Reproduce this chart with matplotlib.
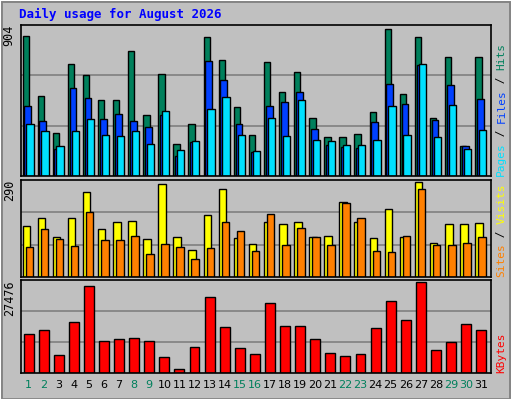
import matplotlib
matplotlib.use("Agg")
import matplotlib.pyplot as plt
from matplotlib.patches import Rectangle

days = list(range(1, 32))
weekend = [1, 2, 8, 9, 15, 16, 22, 23, 29, 30]
hits = [861,492,264,689,621,467,467,769,375,627,197,320,855,713,424,252,701,517,640,357,240,240,258,394,904,504,855,357,732,185,732]
files = [431,338,166,541,480,351,381,338,301,375,123,209,707,590,320,148,431,455,517,289,191,178,172,332,566,443,683,344,560,185,474]
pages = [320,277,185,277,351,252,246,277,197,400,160,215,412,486,252,154,357,246,467,221,215,191,191,221,431,252,689,240,437,166,283]
visits = [156,182,124,182,261,147,169,172,115,284,124,83,191,271,121,102,169,163,169,124,127,229,169,118,207,124,290,105,163,163,166]
sites = [92,147,115,96,198,112,112,127,70,102,92,54,89,169,140,80,194,99,150,124,99,226,182,80,76,127,271,99,99,105,124]
kbytes = [11778,12986,5436,15402,26274,9664,10268,10570,9664,4832,1208,7852,22952,13892,7550,5738,21140,14194,14194,10268,6040,5134,5738,13590,21744,16006,27476,6946,9362,14798,12986]

BG = "#C0C0C0"
fig = plt.figure(figsize=(5.12, 4.0), dpi=100, facecolor=BG)
fig.patches.append(Rectangle((0.002, 0.003), 0.994, 0.994, transform=fig.transFigure,
                             fill=False, edgecolor="#808080", lw=2))
fig.patches.append(Rectangle((0.0, 0.0), 1, 1, transform=fig.transFigure,
                             fill=False, edgecolor="white", lw=1.5))
mono = "DejaVu Sans Mono"
fig.text(0.037, 0.965, "Daily usage for August 2026", color="#0000FF", fontsize=9,
         fontweight="bold", family=mono, va="center")

L, W = 0.041, 0.918
ax1 = fig.add_axes([L, 0.56, W, 0.3775])
ax2 = fig.add_axes([L, 0.3075, W, 0.2425])
ax3 = fig.add_axes([L, 0.0675, W, 0.2325])

kw = dict(edgecolor="black", linewidth=1, align="edge")
x = [d for d in days]
ax1.bar([d - 0.45 for d in x], hits, width=0.42, color="#00805C", **kw)
ax1.bar([d - 0.33 for d in x], files, width=0.45, color="#0040FF", **kw)
ax1.bar([d - 0.2 for d in x], pages, width=0.48, color="#00E0FF", **kw)
ax2.bar([d - 0.45 for d in x], visits, width=0.5, color="#FFFF00", **kw)
ax2.bar([d - 0.25 for d in x], sites, width=0.5, color="#FF8000", **kw)
ax3.bar([d - 0.38 for d in x], kbytes, width=0.66, color="#FF0000", **kw)

for ax, mx in ((ax1, max(hits)), (ax2, max(visits)), (ax3, max(kbytes))):
    top = mx * 1.025
    ax.set_facecolor(BG)
    ax.set_xlim(0.45, 31.6)
    ax.set_ylim(0, top)
    for g in (top / 3, 2 * top / 3):
        ax.axhline(g, color="#808080", lw=1.2, zorder=0)
    ax.set_xticks([]); ax.set_yticks([])
    for s in ax.spines.values():
        s.set_color("black"); s.set_linewidth(1.2)
    ax.text(-0.025, 1.0, str(mx), transform=ax.transAxes, rotation=90,
            ha="center", va="top", fontsize=8.5, family=mono)

for d in days:
    ax3.text(d - 0.05, -0.13, str(d), transform=ax3.get_xaxis_transform(), ha="center",
             va="center", fontsize=8, color="#00805C" if d in weekend else "black")

def rlabel(ax, parts):
    y = 0.0
    for txt, col in parts:
        ax.text(1.022, y, txt, transform=ax.transAxes, rotation=90, ha="center",
                va="bottom", fontsize=8, color=col, family=mono)
        y += len(txt) * 0.044 * (0.3775 / ax.get_position().height)

rlabel(ax1, [("Pages", "#00E0FF"), (" / ", "black"), ("Files", "#0040FF"), (" / ", "black"), ("Hits", "#00805C")])
rlabel(ax2, [("Sites", "#FF8000"), (" / ", "black"), ("Visits", "#FFFF00")])
rlabel(ax3, [("KBytes", "#FF0000")])

fig.savefig("out.png", dpi=100, facecolor=BG)
